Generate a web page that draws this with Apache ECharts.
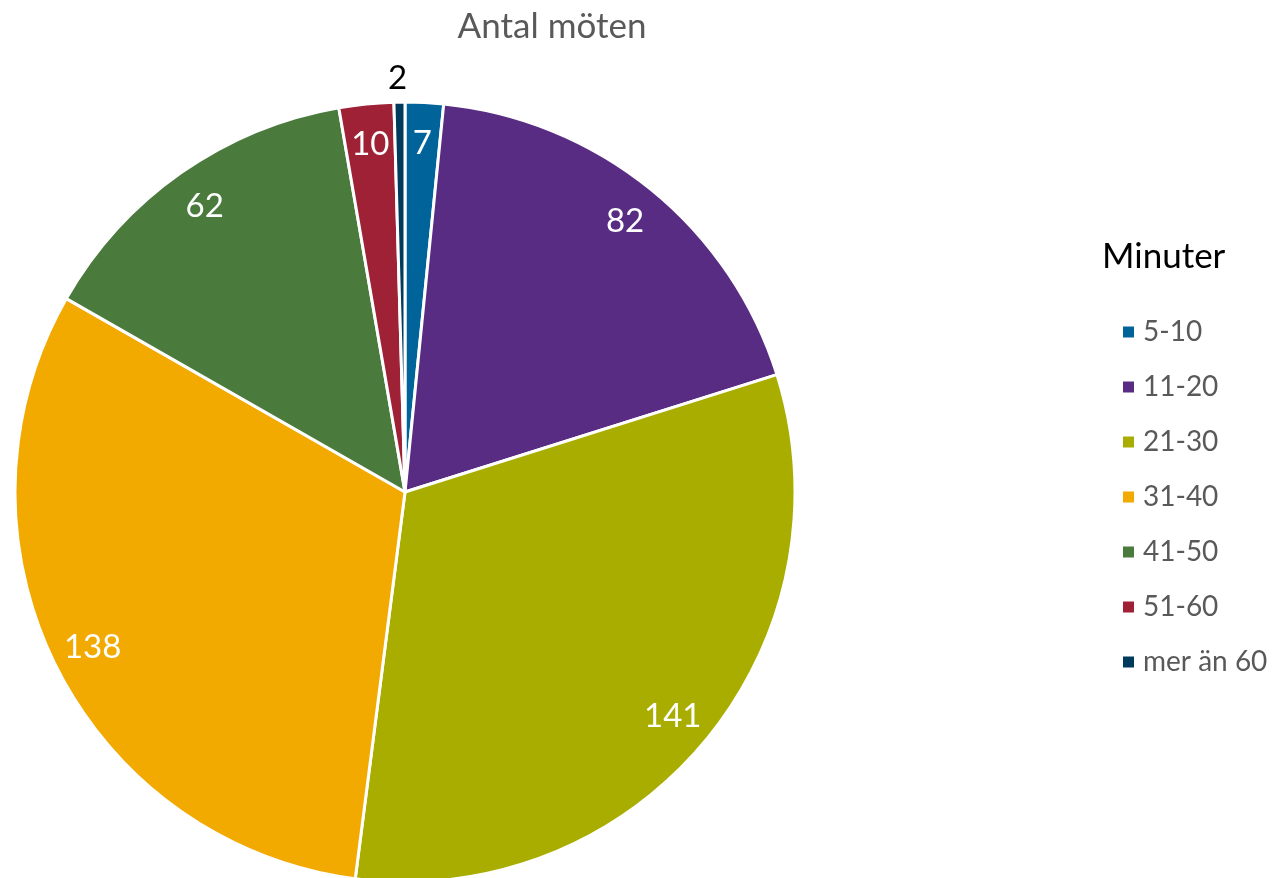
<!DOCTYPE html>
<html><head><meta charset="utf-8">
<script src="https://cdn.jsdelivr.net/npm/echarts@6/dist/echarts.min.js"></script>
<style>html,body{margin:0;padding:0;background:#fff}#c{width:1278px;height:878px}</style>
</head><body><div id="c"></div>
<script>
const categories = ['5-10','11-20','21-30','31-40','41-50','51-60','mer än 60'];
const values = [7,82,141,138,62,10,2];
const colors = ['#00649a','#582c83','#a8ad00','#f2a900','#4a7a3c','#9e2136','#003a5d'];
const FONT = 'Lato, "Open Sans", sans-serif';

const mainData = categories.map((n,i)=>{
  const d = {name:n, value:values[i], itemStyle:{color:colors[i]}};
  if (values[i] < 5) {
    d.label = {show:true, position:'outside', formatter:'{c}', color:'#000', fontSize:33, fontFamily:FONT, distanceToLabelLine:0, padding:[0,-8,0,0]};
    d.labelLine = {show:false, length:24, length2:0};
  }
  return d;
});
const labelData = categories.map((n,i)=>({name:n, value:values[i], label:{show: values[i] >= 5}}));

const chart = echarts.init(document.getElementById('c'));
chart.setOption({
  animation:false,
  title:[
    {text:'Antal möten', left:547, top:4, textAlign:'center',
     textStyle:{fontFamily:FONT, fontSize:35, fontWeight:'normal', color:'#595959'}},
    {text:'Minuter', left:1097, top:234,
     textStyle:{fontFamily:FONT, fontSize:35, fontWeight:'normal', color:'#000'}}
  ],
  legend:{
    orient:'vertical', left:1116, top:313, icon:'rect', itemWidth:13, itemHeight:13, itemGap:27,
    data:categories,
    textStyle:{fontFamily:FONT, fontSize:28, color:'#595959', padding:[0,0,0,3]}
  },
  series:[
    {type:'pie', center:[405,492], radius:[0,390], startAngle:90, clockwise:true,
     avoidLabelOverlap:false, silent:true,
     itemStyle:{borderColor:'#fff', borderWidth:3},
     label:{show:false}, labelLine:{show:false},
     data:mainData},
    {type:'pie', center:[405,492], radius:[300,392], startAngle:90, clockwise:true,
     avoidLabelOverlap:false, silent:true, legendHoverLink:false,
     itemStyle:{color:'rgba(0,0,0,0)', borderWidth:0},
     label:{show:true, position:'inside', formatter:'{c}', color:'#fff', fontSize:33, fontFamily:FONT},
     labelLine:{show:false},
     data:labelData}
  ]
});
</script></body></html>
